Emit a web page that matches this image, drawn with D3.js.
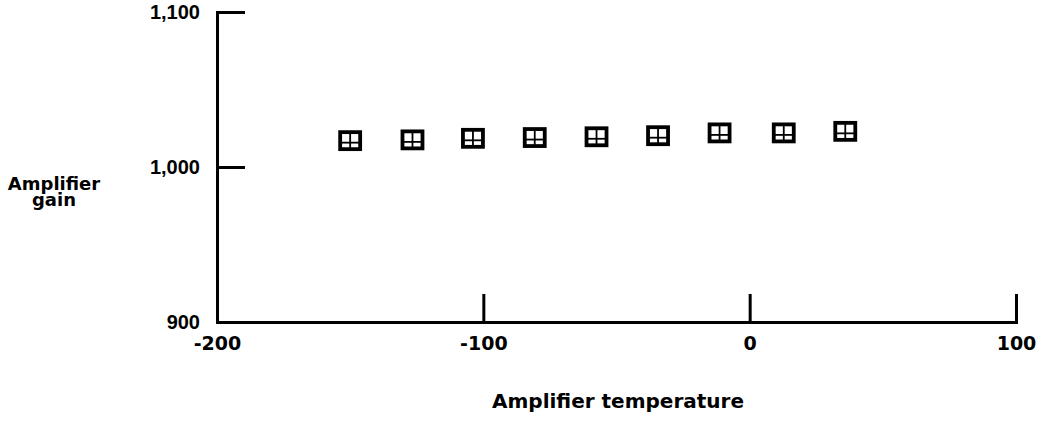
<!DOCTYPE html>
<html>
<head>
<meta charset="utf-8">
<script src="https://cdn.jsdelivr.net/npm/d3@7"></script>
<style>
  html, body { margin: 0; padding: 0; background: #fff; }
  svg { display: block; }
  text { font-weight: bold; fill: #000; }
</style>
</head>
<body>
<svg id="chart" width="1042" height="424"></svg>
<script>
const temperature = [-150, -126.6, -103.9, -80.7, -57.5, -34.4, -11.3, 12.8, 35.9];
const gain = [1017, 1017.5, 1018.5, 1019, 1019.5, 1020.2, 1022, 1022, 1023];
const xTicks = [-200, -100, 0, 100];
const xTickLabels = ["-200", "-100", "0", "100"];
const yTicks = [900, 1000, 1100];
const yTickLabels = ["900", "1,000", "1,100"];
const xTitle = "Amplifier temperature";
const yTitle = ["Amplifier", "gain"];

const FONT = "'DejaVu Sans', sans-serif";
const FONT2 = "'Liberation Sans', Arial, sans-serif";
const svg = d3.select("#chart");
const x = d3.scaleLinear().domain([-200, 100]).range([217, 1016]);
const y = d3.scaleLinear().domain([900, 1100]).range([322, 12]);

const xAxis = d3.axisBottom(x).tickValues(xTicks).tickFormat((d, i) => xTickLabels[i])
  .tickSizeInner(-28).tickSizeOuter(-28).tickPadding(15);
const gx = svg.append("g").attr("transform", `translate(0,${y(900)})`).call(xAxis);
gx.selectAll("text").style("font-size", "19px").style("font-weight", "bold").style("font-family", FONT);

const yAxis = d3.axisLeft(y).tickValues(yTicks).tickFormat((d, i) => yTickLabels[i])
  .tickSizeInner(-28).tickSizeOuter(-28).tickPadding(17);
const gy = svg.append("g").attr("transform", `translate(${x(-200)},0)`).call(yAxis);
gy.selectAll("text").style("font-size", "20px").style("font-weight", "bold").style("font-family", FONT2);

svg.selectAll(".domain, .tick line").attr("stroke", "#000").attr("stroke-width", 3);
gx.selectAll(".tick").filter(d => d === -200).select("line").remove();
gy.selectAll(".tick").filter(d => d === 900).select("line").remove();

// markers
const pts = temperature.map((t, i) => ({ t, g: gain[i] }));
const w = 20, h = 17;
const m = svg.append("g").selectAll("g").data(pts).join("g")
  .attr("transform", d => `translate(${x(d.t)},${y(d.g)})`);
m.append("rect").attr("x", -w / 2).attr("y", -h / 2).attr("width", w).attr("height", h)
  .attr("fill", "none").attr("stroke", "#000").attr("stroke-width", 3.8);
m.append("line").attr("x1", -w / 2).attr("x2", w / 2).attr("y1", 2).attr("y2", 2)
  .attr("stroke", "#000").attr("stroke-width", 1.8);
m.append("line").attr("x1", 0).attr("x2", 0).attr("y1", -h / 2).attr("y2", h / 2)
  .attr("stroke", "#000").attr("stroke-width", 1.8);

// titles
svg.append("text").attr("x", 618).attr("y", 408).attr("text-anchor", "middle")
  .style("font-family", FONT).style("font-size", "20px").text(xTitle);
svg.append("text").attr("x", 54).attr("text-anchor", "middle")
  .style("font-family", FONT).style("font-size", "18px")
  .selectAll("tspan").data(yTitle).join("tspan")
  .attr("x", 54).attr("y", (d, i) => 190 + i * 16).text(d => d);
</script>
</body>
</html>
